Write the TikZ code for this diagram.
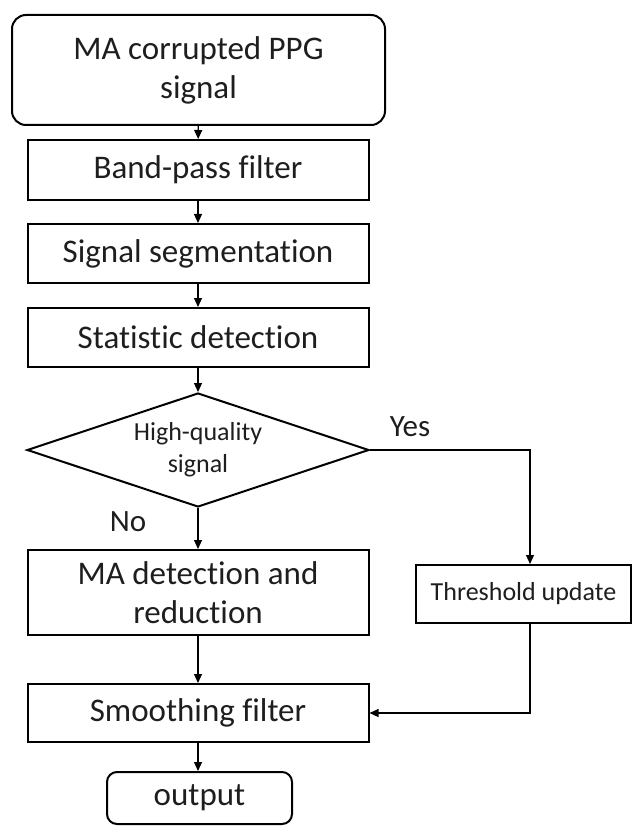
\documentclass[tikz,border=0pt]{standalone}
\usepackage{fontspec}
\setmainfont{Carlito}[RawFeature={-liga;-clig}]
\usetikzlibrary{shapes.geometric,arrows.meta}
\definecolor{txt}{HTML}{1E1E1E}
\begin{document}
\begin{tikzpicture}[x=1pt,y=-1pt,
  box/.style={draw=black,line width=2pt,rectangle,inner sep=0pt,align=center,text=txt,
    font=\fontsize{33}{39}\selectfont},
  rbox/.style={box,rounded corners=14pt},
  flow/.style={draw=black,line width=1.1pt,-{Triangle[length=9pt,width=8pt]}},
  lbl/.style={text=txt,font=\fontsize{31}{37}\selectfont,inner sep=0pt}]
\useasboundingbox (0,0) rectangle (633,826);
\node[rbox,minimum width=373pt,minimum height=110pt] (top) at (198.5,70) {MA corrupted PPG\\signal};
\node[box,minimum width=341pt,minimum height=60pt] (bp) at (198,170) {Band-pass filter};
\node[box,minimum width=341pt,minimum height=59pt] (seg) at (198,253.5) {Signal segmentation};
\node[box,minimum width=341pt,minimum height=59pt] (st) at (198,337.5) {Statistic detection};
\node[diamond,draw=black,line width=2pt,inner sep=0pt,aspect=3,minimum width=342pt,minimum height=114pt,
  align=center,text=txt,font=\fontsize{26}{32}\selectfont] (dec) at (198,450) {High-quality\\signal};
\node[box,minimum width=341pt,minimum height=85pt] (ma) at (198,592.5) {MA detection and\\reduction};
\node[box,minimum width=215pt,minimum height=58pt,font=\fontsize{26}{32}\selectfont] (th) at (523.5,594) {Threshold update};
\node[box,minimum width=341pt,minimum height=58pt] (sm) at (198,713) {Smoothing filter};
\node[rbox,rounded corners=10pt,minimum width=185pt,minimum height=52pt] (out) at (199.5,798) {output};
\node[lbl] (yes) at (410,427) {Yes};
\node[lbl] (no) at (128,522) {No};
\coordinate (yc) at (530,450);
\draw[flow] (top) -- (bp);
\draw[flow] (bp) -- (seg);
\draw[flow] (seg) -- (st);
\draw[flow] (st) -- (dec);
\draw[flow] (dec) -- (ma);
\draw[flow] (ma) -- (sm);
\draw[flow] (sm.south) -- (sm.south |- out.north);
\draw[flow] (dec.east) -- (yc) -- (yc |- th.north);
\draw[flow] (th.south -| yc) |- (sm.east);
\end{tikzpicture}
\end{document}
